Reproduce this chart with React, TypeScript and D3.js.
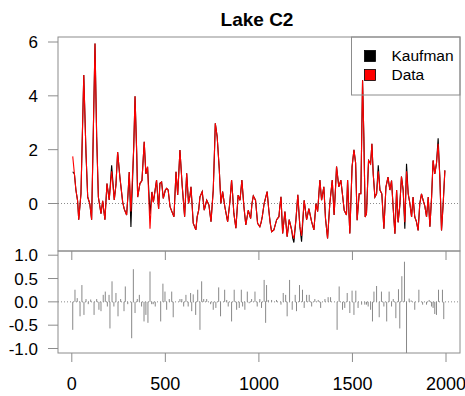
import * as d3 from "d3";

// series (year, value)
const years = [
  5, 14, 22, 31, 37, 49, 64, 76, 85, 96,
  106, 124, 133, 142, 156, 165, 177, 188, 200, 213,
  227, 236, 245, 257, 272, 280, 293, 300, 307, 316,
  331, 338, 347, 352, 364, 375, 387, 396, 405, 418,
  428, 436, 453, 464, 471, 480, 489, 500, 507, 515,
  525, 535, 546, 557, 566, 578, 590, 603, 614, 624,
  632, 637, 649, 663, 670, 678, 685, 697, 708, 721,
  733, 744, 756, 762, 767, 777, 788, 797, 806, 818,
  833, 845, 854, 860, 866, 877, 889, 899, 909, 920,
  930, 943, 956, 963, 970, 982, 993, 1005, 1012, 1018,
  1028, 1044, 1053, 1060, 1068, 1080, 1095, 1107, 1112, 1118,
  1127, 1139, 1151, 1162, 1175, 1181, 1187, 1198, 1208, 1219,
  1228, 1242, 1255, 1261, 1267, 1282, 1294, 1305, 1314, 1320,
  1326, 1335, 1347, 1356, 1367, 1379, 1392, 1402, 1409, 1415,
  1427, 1438, 1445, 1456, 1468, 1474, 1486, 1498, 1508, 1517,
  1525, 1536, 1545, 1554, 1561, 1568, 1575, 1586, 1597, 1604,
  1611, 1620, 1629, 1638, 1647, 1657, 1668, 1679, 1690, 1700,
  1709, 1718, 1727, 1736, 1744, 1753, 1762, 1771, 1780, 1789,
  1798, 1807, 1816, 1824, 1833, 1842, 1851, 1860, 1869, 1878,
  1887, 1896, 1905, 1914, 1923, 1931, 1940, 1949, 1958, 1967,
  1976, 1985, 1994,
];

const dataVals = [
  1.75, 1.1, 0.5, 0.1, -0.6, 0.36, 4.77, 1.85, 0.24, 0.0,
  -0.6, 5.94, 2.47, 0.24, -0.38, 0.1, -0.6, 0.74, 0.13, 1.2,
  0.13, 0.7, 1.91, 0.98, 0.05, -0.2, -0.43, 0.3, 1.17, -0.3,
  2.1, 3.98, 1.85, 0.24, 0.74, 0.85, 2.29, 1.1, 1.36, -0.94,
  0.43, 0.05, 0.87, -0.2, 0.75, 0.8, 0.19, 0.5, 0.56, 0.5,
  -0.12, -0.3, -0.49, 1.18, 0.32, 1.99, 0.67, -0.49, 1.12, 0.0,
  0.3, 0.62, -0.73, -0.98, -0.5, -0.25, 0.25, 0.44, -0.25, 0.12,
  -0.06, -0.68, 0.5, 1.8, 2.98, 2.48, 1.3, 0.0, 0.44, -0.12,
  -0.68, 0.06, 0.87, 0.3, -0.36, -0.92, 0.31, 0.12, 0.87, -0.12,
  -0.8, -0.25, -0.56, 0.0, 0.28, 0.12, -0.74, -0.86, -0.7, -0.49,
  0.0, 0.44, -0.25, -0.7, -1.05, -0.98, -0.6, -0.49, -0.1, 0.25,
  -1.11, -0.3, -1.23, -0.6, -0.98, -1.2, -1.3, -0.6, 0.32, -0.86,
  -1.2, 0.12, -0.6, -0.4, -0.19, -0.68, -0.98, 0.0, -0.3, 0.3,
  0.87, 0.12, 0.62, -0.56, -1.3, 0.0, 0.87, -0.43, 0.5, 1.37,
  0.62, 0.87, 0.44, -0.25, -0.43, 0.87, -1.11, 1.37, 1.99, 1.5,
  -0.62, 0.36, 0.36, 4.58, 2.47, -0.5, -0.38, 1.6, 1.48, 2.22,
  1.1, 0.24, 0.36, 1.2, 0.5, 0.36, -0.94, 0.61, 0.98, 0.5,
  0.85, -0.2, -1.12, 0.5, -0.7, -0.08, 1.0, 0.5, -0.7, 1.2,
  0.36, 0.0, -0.5, 0.24, -0.5, -0.67, -1.0, 0.0, 0.36, 0.12,
  -0.1, -0.5, 0.24, -0.86, 0.24, 1.6, 1.1, 1.48, 2.22, 0.98,
  -1.0, 0.0, 1.23,
];

const kaufVals = [
  1.18, 1.1, 0.5, 0.1, -0.6, 0.36, 4.77, 1.85, 0.24, 0.0,
  -0.6, 5.94, 2.47, 0.24, -0.38, 0.1, -0.6, 0.74, 0.13, 1.42,
  0.13, 0.7, 1.91, 0.98, 0.05, -0.2, -0.43, 0.3, 1.17, -0.87,
  2.1, 3.98, 1.85, 0.24, 0.74, 0.85, 2.29, 1.1, 1.36, -0.4,
  0.43, 0.05, 0.87, -0.2, 0.75, 0.8, 0.19, 0.5, 0.56, 0.5,
  -0.12, -0.3, -0.49, 1.18, 0.32, 1.99, 0.67, -0.49, 1.12, 0.0,
  0.3, 0.62, -0.73, -0.98, -0.5, -0.25, 0.25, 0.44, -0.25, 0.12,
  -0.06, -0.68, 0.5, 1.8, 2.98, 2.48, 1.3, 0.0, 0.44, -0.12,
  -0.68, 0.06, 0.87, 0.3, -0.36, -0.92, 0.31, 0.12, 0.87, -0.12,
  -0.8, -0.25, -0.56, 0.0, 0.28, 0.12, -0.74, -0.86, -0.7, -0.49,
  0.0, 0.44, -0.25, -0.7, -1.05, -0.98, -0.6, -0.49, -0.1, 0.25,
  -1.11, -0.3, -1.23, -0.6, -0.98, -1.3, -1.45, -0.6, 0.32, -0.86,
  -1.42, 0.12, -0.6, -0.4, -0.19, -0.68, -0.98, 0.0, -0.3, 0.3,
  0.87, 0.12, 0.62, -0.56, -1.3, 0.0, 0.87, -0.43, 0.5, 1.37,
  0.62, 0.87, 0.44, -0.25, -0.43, 0.87, -1.11, 1.37, 1.99, 1.5,
  -0.62, 0.36, 0.36, 4.58, 2.47, -0.5, -0.38, 1.6, 1.48, 2.22,
  1.1, 0.24, 0.36, 1.42, 0.5, 0.36, -0.94, 0.61, 0.98, 0.5,
  0.85, -0.2, -1.12, 0.5, -0.7, -0.08, 1.0, 0.5, -0.94, 1.48,
  0.36, 0.0, -0.5, 0.24, -0.5, -0.67, -1.0, 0.0, 0.36, 0.12,
  -0.1, -0.5, 0.24, -0.86, 0.24, 1.6, 1.1, 1.48, 2.42, 0.98,
  -1.0, 0.0, 1.23,
];

// residual spikes (Kaufman - Data)
const residYears = [
  5, 17, 29, 44, 54, 65, 76, 88, 101, 119,
  133, 145, 156, 168, 179, 190, 199, 204, 215, 225,
  236, 247, 261, 279, 286, 299, 320, 329, 338, 350,
  361, 373, 386, 396, 407, 418, 427, 435, 446, 475,
  487, 498, 507, 521, 534, 542, 578, 588, 598, 610,
  622, 635, 641, 649, 662, 673, 685, 694, 705, 721,
  742, 756, 770, 785, 795, 817, 828, 836, 854, 868,
  881, 895, 906, 913, 925, 938, 948, 961, 979, 991,
  1005, 1014, 1028, 1036, 1041, 1050, 1068, 1094, 1118, 1130,
  1143, 1151, 1164, 1178, 1194, 1201, 1217, 1233, 1242, 1255,
  1269, 1282, 1299, 1317, 1330, 1353, 1370, 1383, 1418, 1429,
  1447, 1459, 1472, 1486, 1498, 1508, 1518, 1530, 1549, 1566,
  1575, 1584, 1597, 1607, 1615, 1629, 1643, 1655, 1668, 1683,
  1696, 1709, 1718, 1732, 1746, 1753, 1764, 1778, 1789, 1803,
  1814, 1833, 1855, 1875, 1896, 1910, 1923, 1931, 1940, 1949,
  1960, 1981, 1988,
];

const residVals = [
  -0.6, 0.26, 0.08, -0.31, 0.36, -0.28, 0.06, -0.05, 0.05, -0.28,
  0.06, -0.17, -0.2, 0.15, 0.22, -0.1, 0.15, -0.57, 0.44, -0.1,
  0.19, -0.31, 0.06, -0.2, 0.33, -0.05, -0.78, 0.7, -0.24, 0.06,
  0.15, -0.1, -0.42, -0.28, -0.45, 0.65, -0.05, -0.05, -0.1, -0.42,
  0.39, 0.22, -0.17, 0.06, 0.22, -0.33, 0.06, 0.06, -0.1, 0.15,
  -0.1, 0.19, -0.2, 0.16, -0.28, 0.26, -0.6, 0.44, 0.06, 0.06,
  -0.05, -0.17, -0.13, 0.31, -0.31, 0.26, 0.04, -0.1, -0.42, 0.26,
  -0.17, -0.13, 0.26, -0.1, -0.17, 0.22, -0.03, 0.06, 0.22, -0.1,
  0.06, -0.13, 0.47, -0.45, 0.36, 0.04, 0.04, 0.04, -0.06, 0.19,
  0.15, -0.31, 0.47, -0.17, 0.15, -0.2, 0.36, 0.26, -0.13, 0.15,
  0.15, -0.1, 0.06, 0.04, -0.13, 0.06, 0.1, 0.1, -0.6, 0.33,
  -0.17, -0.13, 0.19, -0.24, 0.24, -0.28, 0.24, -0.13, -0.06, -0.06,
  -0.06, -0.1, -0.17, -0.42, 0.22, 0.34, -0.33, 0.22, -0.1, -0.42,
  0.22, -0.1, 0.06, -0.35, 0.27, -0.57, 0.55, 0.86, -1.1, 0.07,
  0.03, -0.17, 0.26, -0.06, -0.06, 0.04, -0.1, -0.13, -0.26, -0.28,
  0.26, 0.26, -0.37,
];

const xTicks = [0, 500, 1000, 1500, 2000];
const topTicks = [0, 2, 4, 6];
const botTicks = [-1, -0.5, 0, 0.5, 1];
const legendItems = ["Kaufman", "Data"];
const legendColors = ["#000000", "#ff0000"];

const FONT = "Liberation Sans, Arial, Helvetica, sans-serif";
const GREY = "#8c8c8c";

export default function App() {
  const left = 58;
  const right = 460;
  const top1 = 37;
  const bot1 = 251;
  const bot2 = 353;

  const x = d3.scaleLinear().domain([0, 2000]).range([71.8, 446]);
  const y1 = d3.scaleLinear().domain([0, 6]).range([203.5, 42]);
  const y2 = d3.scaleLinear().domain([-1, 1]).range([348.5, 255.2]);

  const idx = d3.range(years.length);
  const lineOf = (vals: number[]) =>
    d3
      .line<number>()
      .x((i) => x(years[i]))
      .y((i) => y1(vals[i]))(idx) as string;

  return (
    <svg
      width={465}
      height={396}
      style={{ position: "fixed", left: 0, top: 0, background: "#fff" }}
      fontFamily={FONT}
    >
      <defs>
        <clipPath id="c1">
          <rect x={left} y={top1} width={right - left} height={bot1 - top1} />
        </clipPath>
        <clipPath id="c2">
          <rect x={left} y={bot1} width={right - left} height={bot2 - bot1} />
        </clipPath>
      </defs>

      <text x={257} y={26} textAnchor="middle" fontSize={19} fontWeight="bold">
        Lake C2
      </text>

      {/* top panel */}
      <line x1={left} x2={right} y1={y1(0)} y2={y1(0)} stroke={GREY} strokeDasharray="1 2" />
      <g clipPath="url(#c1)">
        <path d={lineOf(kaufVals)} fill="none" stroke="#000" strokeWidth={1.1} />
        <path d={lineOf(dataVals)} fill="none" stroke="#ff0000" strokeWidth={1.1} />
      </g>
      <rect x={left} y={top1} width={right - left} height={bot1 - top1} fill="none" stroke={GREY} />
      {topTicks.map((t) => (
        <g key={"t" + t}>
          <line x1={left - 10} x2={left} y1={y1(t)} y2={y1(t)} stroke={GREY} />
          <text x={38} y={y1(t)} dy="0.36em" textAnchor="end" fontSize={17}>
            {t}
          </text>
        </g>
      ))}
      {xTicks.map((t) => (
        <line key={"xt1" + t} x1={x(t)} x2={x(t)} y1={bot1} y2={bot1 + 9} stroke={GREY} />
      ))}

      {/* legend */}
      <rect x={351.5} y={top1} width={right - 351.5} height={58} fill="none" stroke={GREY} />
      {legendItems.map((name, i) => (
        <g key={name}>
          <rect
            x={364.5}
            y={50.5 + i * 19}
            width={11}
            height={11}
            fill={legendColors[i]}
            stroke="#000"
            strokeWidth={0.8}
          />
          <text x={391.5} y={61 + i * 19} fontSize={15.5}>
            {name}
          </text>
        </g>
      ))}

      {/* bottom panel */}
      <line x1={left} x2={right} y1={y2(0)} y2={y2(0)} stroke={GREY} strokeDasharray="1 2" />
      <g clipPath="url(#c2)">
        {residYears.map((yr, i) => (
          <line
            key={"r" + i}
            x1={x(yr)}
            x2={x(yr)}
            y1={y2(0)}
            y2={y2(residVals[i])}
            stroke="#888"
            strokeWidth={1}
          />
        ))}
      </g>
      <rect x={left} y={bot1} width={right - left} height={bot2 - bot1} fill="none" stroke={GREY} />
      {botTicks.map((t) => (
        <g key={"b" + t}>
          <line x1={left - 10} x2={left} y1={y2(t)} y2={y2(t)} stroke={GREY} />
          <text x={38} y={y2(t)} dy="0.36em" textAnchor="end" fontSize={17}>
            {t.toFixed(1)}
          </text>
        </g>
      ))}
      {xTicks.map((t) => (
        <g key={"xb" + t}>
          <line x1={x(t)} x2={x(t)} y1={bot2} y2={bot2 + 9} stroke={GREY} />
          <text x={x(t)} y={390} textAnchor="middle" fontSize={18}>
            {t}
          </text>
        </g>
      ))}
    </svg>
  );
}
